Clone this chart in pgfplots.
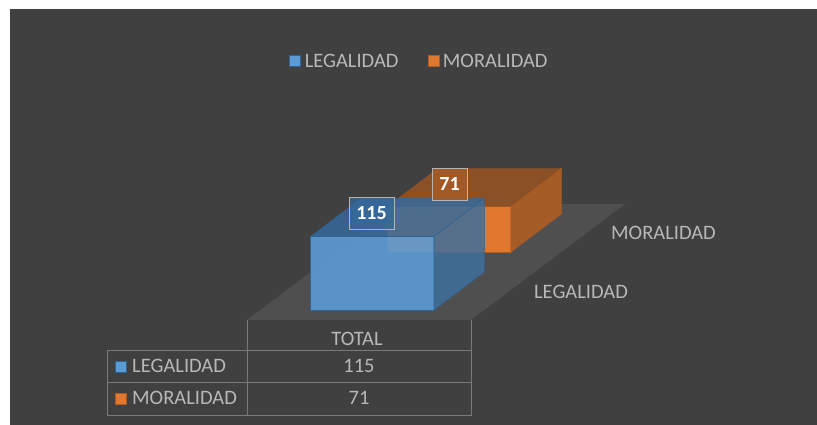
\documentclass[border=0pt]{standalone}
\usepackage{fontspec}
\setmainfont{Carlito}
\usepackage{pgfplots}
\pgfplotsset{compat=1.18}
\definecolor{bg}{HTML}{404040}
\definecolor{floorc}{HTML}{504F4F}
\definecolor{txt}{HTML}{B8B8B8}
\definecolor{grid}{HTML}{7A7A7A}
\definecolor{blue1}{HTML}{5B9BD5}
\definecolor{blue2}{HTML}{3F6F9C}
\definecolor{blue3}{HTML}{356A9C}
\definecolor{blueE}{HTML}{2F6394}
\definecolor{or1}{HTML}{E07830}
\definecolor{or2}{HTML}{A65C26}
\definecolor{or3}{HTML}{8A5026}
\definecolor{orE}{HTML}{AE5A21}
\newcommand{\lab}{\fontsize{20.5}{22}\selectfont}

\begin{document}
\begin{tikzpicture}[x=1pt,y=1pt]
\path[fill=white] (0,0) rectangle (817,425);
\fill[bg] (10,0) rectangle (817,416);
\begin{axis}[
    at={(247pt,105pt)}, anchor=south west,
    x={(224pt,0pt)}, y={(77pt,58pt)}, z={(0pt,0.64pt)},
    xmin=0, xmax=1, ymin=0, ymax=2, zmin=0, zmax=120,
    hide axis, clip=false,
    legend columns=2,
    legend cell align=left,
    legend image code/.code={\filldraw[#1] (0pt,-5.5pt) rectangle (11pt,5.5pt);},
    legend style={draw=none,fill=none,text=txt,font=\lab,
      at={(axis cs:0.770,0,404.5)},anchor=center,
      /tikz/every odd column/.append style={column sep=2pt},
      /tikz/every even column/.append style={column sep=27pt}},
]
% floor
\addplot3[fill=floorc,draw=none,mark=none,forget plot] coordinates {(0,0,0) (1,0,0) (1,2,0) (0,2,0) (0,0,0)};
% MORALIDAD behind
\addplot3[fill=or1,draw=orE,mark=none,forget plot] coordinates {(0.225,1.172,0) (0.775,1.172,0) (0.775,1.172,71) (0.225,1.172,71) (0.225,1.172,0)};
\addplot3[fill=or2,draw=orE,mark=none,forget plot] coordinates {(0.775,1.172,0) (0.775,1.828,0) (0.775,1.828,71) (0.775,1.172,71) (0.775,1.172,0)};
\addplot3[fill=or3,draw=orE,mark=none,forget plot] coordinates {(0.225,1.172,71) (0.775,1.172,71) (0.775,1.828,71) (0.225,1.828,71) (0.225,1.172,71)};
% LEGALIDAD in front, see-through
\addplot3[fill=blue1,draw=blueE,fill opacity=0.9,mark=none,forget plot] coordinates {(0.225,0.172,0) (0.775,0.172,0) (0.775,0.172,115) (0.225,0.172,115) (0.225,0.172,0)};
\addplot3[fill=blue2,draw=blueE,fill opacity=0.85,mark=none,forget plot] coordinates {(0.775,0.172,0) (0.775,0.828,0) (0.775,0.828,115) (0.775,0.172,115) (0.775,0.172,0)};
\addplot3[fill=blue3,draw=blueE,fill opacity=0.85,mark=none,forget plot] coordinates {(0.225,0.172,115) (0.775,0.172,115) (0.775,0.828,115) (0.225,0.828,115) (0.225,0.172,115)};
\addlegendimage{fill=blue1,draw=blueE}
\addlegendentry{LEGALIDAD}
\addlegendimage{fill=or1,draw=orE}
\addlegendentry{MORALIDAD}
\end{axis}
% category names
\node[text=txt,font=\lab] at (581,133) {LEGALIDAD};
\node[text=txt,font=\lab] at (663.5,192) {MORALIDAD};
% data labels
\node[draw=white!60!bg,fill=blue3,fill opacity=0.75,text opacity=1,text=white,minimum width=45pt,minimum height=32pt,inner sep=0pt,font=\bfseries\fontsize{20}{22}\selectfont] at (371.5,212) {115};
\node[draw=white!60!bg,fill=or2,fill opacity=0.85,text opacity=1,text=white,minimum width=35pt,minimum height=32pt,inner sep=0pt,font=\bfseries\fontsize{20}{22}\selectfont] at (449.5,241) {71};
% data table
\draw[grid,line width=1pt] (247,105) -- (247,9) (471,105) -- (471,9)
  (107,74) -- (471,74) (107,42) -- (471,42) (107,9) -- (471,9) (107,74) -- (107,9);
\node[text=txt,font=\lab] at (357,86) {TOTAL};
\node[text=txt,font=\lab] at (359,59) {115};
\node[text=txt,font=\lab] at (359,27) {71};
\node[text=txt,font=\lab,anchor=west,inner sep=0pt] at (132,59) {LEGALIDAD};
\node[text=txt,font=\lab,anchor=west,inner sep=0pt] at (132,27) {MORALIDAD};
\filldraw[fill=blue1,draw=blueE] (115.5,52.5) rectangle (126.5,63.5);
\filldraw[fill=or1,draw=orE] (115.5,20.5) rectangle (126.5,31.5);
\end{tikzpicture}
\end{document}
